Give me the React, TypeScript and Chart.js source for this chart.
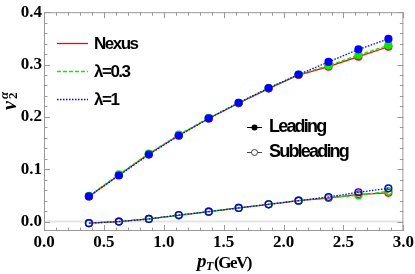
import React, { useEffect, useRef } from "react";
import { Chart, registerables } from "chart.js";

Chart.register(...registerables);

const pT = [0.375, 0.625, 0.875, 1.125, 1.375, 1.625, 1.875, 2.125, 2.375, 2.625, 2.875];
const nexusLeading = [0.048, 0.089, 0.129, 0.165, 0.197, 0.226, 0.254, 0.28, 0.296, 0.315, 0.334];
const lam03Leading = [0.049, 0.09, 0.13, 0.166, 0.198, 0.227, 0.255, 0.281, 0.298, 0.318, 0.337];
const lam1Leading = [0.048, 0.088, 0.128, 0.164, 0.197, 0.227, 0.255, 0.281, 0.305, 0.329, 0.349];
const nexusSub = [-0.003, 0.0, 0.005, 0.012, 0.019, 0.026, 0.033, 0.04, 0.045, 0.052, 0.055];
const lam03Sub = [-0.003, 0.0, 0.005, 0.012, 0.019, 0.026, 0.033, 0.04, 0.046, 0.05, 0.058];
const lam1Sub = [-0.003, 0.0, 0.005, 0.0125, 0.019, 0.026, 0.033, 0.04, 0.047, 0.056, 0.0635];

const xTicks = [0, 0.5, 1.0, 1.5, 2.0, 2.5, 3.0];
const yTicks = [0, 0.1, 0.2, 0.3, 0.4];

const seriesLabels = ["Nexus", "λ=0.3", "λ=1"];
const typeLabels = ["Leading", "Subleading"];

const RED = "#ff0000";
const GREEN = "#00ee00";
const BLUE = "#0000ff";
const FRAME = "#9a9a9a";

const toPts = (ys: number[]) => pT.map((x, i) => ({ x, y: ys[i] }));

const decor = {
  id: "decor",
  beforeDatasetsDraw(chart: any) {
    const { ctx, chartArea: a, scales } = chart;
    const y0 = scales.y.getPixelForValue(0);
    ctx.save();
    ctx.strokeStyle = "#e4e4e4";
    ctx.lineWidth = 2;
    ctx.beginPath();
    ctx.moveTo(a.left, y0);
    ctx.lineTo(a.right, y0);
    ctx.stroke();
    ctx.restore();
  },
  afterDatasetsDraw(chart: any) {
    const { ctx, chartArea: a, scales } = chart;
    const { x, y } = scales;
    ctx.save();
    ctx.strokeStyle = FRAME;
    ctx.lineWidth = 1;
    ctx.strokeRect(a.left + 0.5, a.top + 0.5, a.right - a.left - 1, a.bottom - a.top - 1);
    ctx.beginPath();
    for (let i = 0; i <= 30; i++) {
      const px = Math.round(x.getPixelForValue(i / 10)) + 0.5;
      const len = i % 5 === 0 ? 6 : 3.5;
      ctx.moveTo(px, a.bottom);
      ctx.lineTo(px, a.bottom - len);
      ctx.moveTo(px, a.top);
      ctx.lineTo(px, a.top + len);
    }
    for (let j = 0; j <= 20; j++) {
      const py = Math.round(y.getPixelForValue(j * 0.02)) + 0.5;
      const len = j % 5 === 0 ? 6 : 3.5;
      ctx.moveTo(a.left, py);
      ctx.lineTo(a.left + len, py);
      ctx.moveTo(a.right, py);
      ctx.lineTo(a.right - len, py);
    }
    ctx.stroke();
    ctx.restore();
  },
  afterDraw(chart: any) {
    const ctx = chart.ctx as CanvasRenderingContext2D;
    ctx.save();
    // Legend 1
    const rows = [
      { label: seriesLabels[0], color: RED, dash: [] as number[], y: 43 },
      { label: seriesLabels[1], color: GREEN, dash: [4, 2], y: 71 },
      { label: seriesLabels[2], color: BLUE, dash: [1.5, 1.5], y: 99 },
    ];
    for (const r of rows) {
      ctx.strokeStyle = r.color;
      ctx.lineWidth = 1.3;
      ctx.setLineDash(r.dash);
      ctx.beginPath();
      ctx.moveTo(57, r.y + 0.5);
      ctx.lineTo(88, r.y + 0.5);
      ctx.stroke();
      ctx.setLineDash([]);
      ctx.fillStyle = "#000";
      ctx.font = 'bold 17px "Liberation Sans"';
      (ctx as any).letterSpacing = "-1.5px";
      ctx.textBaseline = "middle";
      ctx.textAlign = "left";
      ctx.fillText(r.label, 94, r.y + 1);
    }
    // Legend 2
    const rows2 = [
      { label: typeLabels[0], filled: true, y: 127 },
      { label: typeLabels[1], filled: false, y: 152 },
    ];
    for (const r of rows2) {
      ctx.strokeStyle = r.filled ? "#000" : "#444";
      ctx.lineWidth = 1;
      ctx.beginPath();
      ctx.moveTo(247, r.y + 0.5);
      ctx.lineTo(262, r.y + 0.5);
      ctx.stroke();
      ctx.beginPath();
      ctx.arc(254.5, r.y + 0.5, 3, 0, Math.PI * 2);
      if (r.filled) {
        ctx.fillStyle = "#000";
        ctx.fill();
      } else {
        ctx.fillStyle = "#fff";
        ctx.fill();
        ctx.stroke();
      }
      ctx.fillStyle = "#000";
      ctx.font = 'bold 18px "Liberation Sans"';
      (ctx as any).letterSpacing = "-1.8px";
      ctx.textBaseline = "middle";
      ctx.textAlign = "left";
      ctx.fillText(r.label, 269, r.y);
    }
    (ctx as any).letterSpacing = "0px";
    // x title
    ctx.textBaseline = "alphabetic";
    ctx.font = 'italic bold 19px "Liberation Serif"';
    ctx.fillText("p", 197, 267);
    ctx.font = 'italic bold 12px "Liberation Serif"';
    ctx.fillText("T", 206, 270);
    ctx.font = 'bold 17px "Liberation Serif"';
    (ctx as any).letterSpacing = "-1.5px";
    ctx.fillText("(GeV)", 214, 268);
    (ctx as any).letterSpacing = "0px";
    // y title
    ctx.translate(16, 97);
    ctx.rotate(-Math.PI / 2);
    ctx.font = 'italic bold 20px "Liberation Serif"';
    ctx.fillText("v", -13, 0);
    ctx.font = 'bold 13px "Liberation Serif"';
    ctx.fillText("2", -2, 1);
    ctx.font = 'italic bold 13px "Liberation Serif"';
    ctx.fillText("α", -2, -8);
    ctx.restore();
  },
};

export default function App() {
  const ref = useRef<HTMLCanvasElement | null>(null);
  useEffect(() => {
    document.body.style.margin = "0";
    const canvas = ref.current!;
    const lead = (label: string, data: number[], color: string, dash: number[]) => ({
      label,
      data: toPts(data),
      borderColor: color,
      backgroundColor: color,
      borderWidth: 1.3,
      borderDash: dash,
      pointRadius: 4.1,
      pointBackgroundColor: color,
      pointBorderWidth: 0,
      tension: 0,
    });
    const sub = (label: string, data: number[], color: string, dash: number[]) => ({
      label,
      data: toPts(data),
      borderColor: color,
      backgroundColor: "rgba(0,0,0,0)",
      borderWidth: 1.3,
      borderDash: dash,
      pointRadius: 3.4,
      pointBackgroundColor: "rgba(0,0,0,0)",
      pointBorderColor: color,
      pointBorderWidth: 1.4,
      tension: 0,
    });
    const tickFont = { family: "Liberation Serif", weight: "bold" as const, size: 17 };
    const chart = new Chart(canvas, {
      type: "line",
      data: {
        datasets: [
          lead(seriesLabels[2], lam1Leading, BLUE, [1.5, 1.5]),
          sub(seriesLabels[2], lam1Sub, BLUE, [1.5, 1.5]),
          lead(seriesLabels[1], lam03Leading, GREEN, [4, 2]),
          sub(seriesLabels[1], lam03Sub, GREEN, [4, 2]),
          lead(seriesLabels[0], nexusLeading, RED, []),
          sub(seriesLabels[0], nexusSub, RED, []),
        ] as any,
      },
      options: {
        animation: false,
        responsive: false,
        events: [],
        layout: { padding: { top: 9, right: 11, left: 0, bottom: 0 }, autoPadding: false } as any,
        plugins: { legend: { display: false }, tooltip: { enabled: false } },
        scales: {
          x: {
            type: "linear",
            min: 0,
            max: 3,
            grid: { display: false, drawTicks: false },
            border: { display: false },
            ticks: {
              font: tickFont,
              color: "#000",
              padding: 1,
              maxRotation: 0,
              autoSkip: false,
              callback: (v: any) => Number(v).toFixed(1),
            },
            afterBuildTicks: (s: any) => {
              s.ticks = xTicks.map((v) => ({ value: v }));
            },
            afterFit: (s: any) => {
              s.height = 43;
            },
          },
          y: {
            type: "linear",
            min: -0.018,
            max: 0.4,
            grid: { display: false, drawTicks: false },
            border: { display: false },
            ticks: {
              font: tickFont,
              color: "#000",
              padding: 2,
              autoSkip: false,
              callback: (v: any) => Number(v).toFixed(1),
            },
            afterBuildTicks: (s: any) => {
              s.ticks = yTicks.map((v) => ({ value: v }));
            },
            afterFit: (s: any) => {
              s.width = 44;
            },
          },
        },
      } as any,
      plugins: [decor],
    });
    return () => chart.destroy();
  }, []);
  return (
    <div style={{ width: 415, height: 274 }}>
      <canvas ref={ref} width={415} height={274} style={{ display: "block" }} />
    </div>
  );
}
